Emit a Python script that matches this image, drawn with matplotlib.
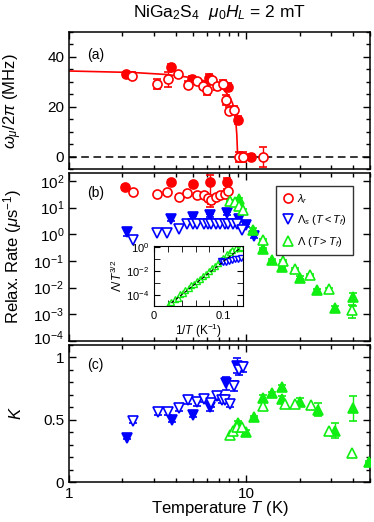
import numpy as np
import matplotlib.pyplot as plt
import matplotlib.transforms as mtransforms
from matplotlib.ticker import MultipleLocator, LogLocator, NullFormatter, FixedLocator

plt.rcParams['font.family'] = ['Liberation Sans', 'DejaVu Sans']
plt.rcParams['mathtext.fontset'] = 'custom'
plt.rcParams['mathtext.rm'] = 'Liberation Sans'
plt.rcParams['mathtext.it'] = 'Liberation Sans:italic'
plt.rcParams['mathtext.bf'] = 'Liberation Sans:bold'

VERMELHO = '#ff0000'
AZUL = '#0000ff'
VERDE = '#11ee11'

# (a) frequencia de precessao
a_cheio_T = [2.1, 3.75, 4.97, 6.17, 7.85, 8.93, 10.7]
a_cheio_w = [33.0, 36.0, 31.0, 31.7, 27.9, 14.8, 0.0]
a_cheio_err = [1.0, 1.0, 1.5, 1.5, 1.5, 1.5, 1.2]
a_vazio_T = [2.28, 3.14, 3.61, 4.13, 4.72, 5.29, 5.74, 6.04, 6.39, 6.8, 7.35, 7.7, 7.95, 8.5, 9.16, 9.65, 12.5]
a_vazio_w = [32.5, 29.0, 31.0, 33.3, 28.9, 30.2, 28.5, 26.9, 30.6, 28.2, 29.3, 22.6, 18.5, 18.8, 0.0, 0.0, 0.0]
a_vazio_err = [1.5, 2.0, 3.0, 1.0, 1.5, 1.0, 1.5, 2.0, 1.0, 1.5, 1.5, 2.0, 1.5, 1.5, 2.0, 2.0, 4.0]
ajuste_T = [1.0, 2.3, 3.55, 5.0, 6.5, 7.4, 8.1, 8.4, 8.7, 8.85, 8.95]
ajuste_w = [34.4, 33.8, 33.0, 31.7, 29.5, 27.2, 23.9, 21.2, 15.8, 9.0, 0.0]

# (b) taxas de relaxacao
lr_cheio_T = [2.07, 3.75, 5.04, 6.25, 7.8]
lr_cheio = [59, 91, 76, 91, 91]
lr_cheio_err = [12, 15, 15, 80, 40]
lr_vazio_T = [2.29, 3.15, 3.59, 4.2, 4.66, 5.3, 5.79, 6.12, 6.3, 6.77, 7.13, 7.6, 7.94]
lr_vazio = [39, 32, 39, 25, 37, 31, 29, 23, 20, 26, 29, 33, 42]
lr_vazio_err = [5, 5, 5, 4, 5, 4, 4, 4, 6, 4, 4, 5, 8]

ls_cheio_T = [2.12, 3.75, 5.04, 6.25, 7.8, 9.15, 10.0, 11.0]
ls_cheio = [1.2, 3.8, 4.4, 5.1, 6.2, 3.8, 2.2, 0.9]
ls_cheio_err = [0.3, 0.6, 0.6, 0.7, 0.8, 0.6, 0.3, 0.15]
ls_vazio_T = [2.29, 3.13, 3.59, 4.15, 4.66, 5.0, 5.3, 5.79, 6.12, 6.3, 6.77, 7.13, 7.6, 7.94, 8.45, 8.85, 9.46]
ls_vazio = [0.62, 1.1, 1.1, 1.6, 2.45, 2.4, 2.5, 2.4, 2.45, 2.5, 2.45, 2.5, 2.5, 2.45, 2.5, 2.4, 1.4]

lg_vazio_T = [8.1, 8.6, 9.05, 9.65, 12.4, 16.2, 18.9, 23.0, 29.4, 39.4]
lg_vazio = [17.8, 15.8, 12.0, 7.9, 0.62, 0.102, 0.050, 0.030, 0.0087, 0.0015]
lg_vazio_err = [2, 2, 1.5, 1, 0.06, 0.01, 0.005, 0.003, 0.001, 0.0008]
lg_cheio_T = [9.05, 10.9, 12.5, 13.95, 15.9, 20.0, 25.0, 31.8, 40.0]
lg_cheio = [21.0, 1.5, 0.28, 0.11, 0.062, 0.024, 0.0081, 0.0018, 0.0043]
lg_cheio_err = [3, 0.2, 0.03, 0.012, 0.007, 0.003, 0.0012, 0.0003, 0.0022]

# (c) expoente K
kc_azul_cheio_T = [2.12, 3.8, 5.0, 6.25, 7.7, 8.84]
kc_azul_cheio = [0.355, 0.50, 0.54, 0.60, 0.79, 0.93]
kc_azul_cheio_err = [0.01, 0.02, 0.02, 0.03, 0.05, 0.06]
kc_azul_vazio_T = [2.29, 3.19, 3.64, 4.15, 4.72, 5.26, 5.79, 6.34, 6.8, 7.28, 7.6, 8.1, 8.5, 9.1, 9.6]
kc_azul_vazio = [0.49, 0.56, 0.56, 0.595, 0.654, 0.64, 0.667, 0.63, 0.686, 0.66, 0.66, 0.627, 0.766, 0.90, 0.92]
kc_azul_vazio_err = [0.02, 0.02, 0.02, 0.03, 0.03, 0.03, 0.03, 0.03, 0.03, 0.03, 0.03, 0.03, 0.04, 0.04, 0.04]
kc_verde_vazio_T = [8.05, 8.4, 8.9, 9.5, 12.5, 16.6, 18.9, 23.3, 29.3, 39.3]
kc_verde_vazio = [0.38, 0.41, 0.44, 0.44, 0.61, 0.627, 0.627, 0.62, 0.41, 0.23]
kc_verde_cheio_T = [8.93, 10.0, 11.0, 12.5, 14.0, 16.0, 16.0, 20.0, 25.3, 31.8, 40.0, 49.0]
kc_verde_cheio = [0.47, 0.40, 0.52, 0.675, 0.71, 0.76, 0.667, 0.64, 0.58, 0.41, 0.59, 0.16]
kc_verde_cheio_err = [0.02, 0.02, 0.01, 0.02, 0.01, 0.02, 0.02, 0.03, 0.05, 0.06, 0.1, 0.01]

# inset: Lambda/T^1.5 contra 1/T
ins_verde_x = [0.022, 0.025, 0.03, 0.034, 0.038, 0.042, 0.045, 0.05, 0.054, 0.058, 0.0625, 0.066, 0.071,
               0.075, 0.08, 0.084, 0.088, 0.092, 0.097, 0.1, 0.105, 0.11, 0.113, 0.118, 0.122, 0.125]
ins_verde_log = [-4.75, -4.6, -4.35, -4.2, -3.9, -3.8, -3.55, -3.45, -3.2, -3.1, -2.85, -2.7, -2.4,
                 -2.25, -2.0, -1.75, -1.6, -1.35, -1.1, -0.9, -0.65, -0.45, -0.3, -0.15, -0.1, -0.05]
ins_azul_x = [0.097, 0.1, 0.104, 0.108, 0.112, 0.117, 0.121, 0.125]
ins_azul_log = [-1.15, -1.3, -1.25, -1.2, -1.1, -1.05, -1.0, -0.95]
ins_ajuste_x = [0.025, 0.125]
ins_ajuste_log = [-4.65, -0.1]


def serie(ax, T, y, err, cor, marker, cheio, ms=6.5):
    face = cor if cheio else 'white'
    ax.errorbar(T, y, yerr=err, fmt=marker, color=cor, mfc=face, mec=cor, ms=ms, mew=1.2,
                capsize=3, elinewidth=1, capthick=1, zorder=3)


def eixo_T(ax):
    ax.set_xscale('log')
    ax.set_xlim(1, 50)
    ax.tick_params(which='both', direction='in', top=True, right=True, labelsize=11)
    ax.tick_params(which='major', length=5, width=1)
    ax.tick_params(which='minor', length=3, width=1)
    for s in ax.spines.values():
        s.set_linewidth(1.1)


fig = plt.figure(figsize=(3.74, 5.22), dpi=100)
ax_a = fig.add_axes([0.1845, 0.6753, 0.805, 0.2634])
ax_b = fig.add_axes([0.1845, 0.3467, 0.805, 0.3219])
ax_c = fig.add_axes([0.1845, 0.0766, 0.805, 0.2634])

# painel (a)
eixo_T(ax_a)
ax_a.axhline(0, color='black', ls='--', lw=1.1, dashes=(5, 3), zorder=1)
ax_a.plot(ajuste_T, ajuste_w, color=VERMELHO, lw=1.2, zorder=2)
serie(ax_a, a_cheio_T, a_cheio_w, a_cheio_err, VERMELHO, 'o', True)
serie(ax_a, a_vazio_T, a_vazio_w, a_vazio_err, VERMELHO, 'o', False)
ax_a.set_ylim(-5, 50)
ax_a.yaxis.set_major_locator(FixedLocator([0, 20, 40]))
ax_a.yaxis.set_minor_locator(MultipleLocator(5))
ax_a.xaxis.set_major_formatter(NullFormatter())
ax_a.set_ylabel(r'$\omega_\mu/2\pi$ (MHz)', fontsize=12)
ax_a.text(0.06, 0.83, '(a)', transform=ax_a.transAxes, fontsize=10, va='center')

# painel (b)
eixo_T(ax_b)
ax_b.set_yscale('log')
serie(ax_b, lr_cheio_T, lr_cheio, lr_cheio_err, VERMELHO, 'o', True)
serie(ax_b, lr_vazio_T, lr_vazio, lr_vazio_err, VERMELHO, 'o', False)
serie(ax_b, ls_cheio_T, ls_cheio, ls_cheio_err, AZUL, 'v', True)
serie(ax_b, ls_vazio_T, ls_vazio, None, AZUL, 'v', False)
serie(ax_b, lg_cheio_T, lg_cheio, lg_cheio_err, VERDE, '^', True)
serie(ax_b, lg_vazio_T, lg_vazio, lg_vazio_err, VERDE, '^', False)
ax_b.set_ylim(1e-4, 200)
ax_b.yaxis.set_major_locator(FixedLocator([1e-4, 1e-3, 1e-2, 1e-1, 1, 10, 100]))
ax_b.yaxis.set_minor_locator(FixedLocator([]))
ax_b.xaxis.set_major_formatter(NullFormatter())
ax_b.set_ylabel(r'Relax. Rate ($\mu$s$^{-1}$)', fontsize=12)
ax_b.text(0.06, 0.88, '(b)', transform=ax_b.transAxes, fontsize=10, va='center')

h1 = ax_b.plot([], [], 'o', color=VERMELHO, mfc='white', ms=6.5, mew=1.2)[0]
h2 = ax_b.plot([], [], 'v', color=AZUL, mfc='white', ms=6.5, mew=1.2)[0]
h3 = ax_b.plot([], [], '^', color=VERDE, mfc='white', ms=6.5, mew=1.2)[0]
leg = ax_b.legend([h1, h2, h3], [r'$\lambda_r$', r'$\Lambda_s$ ($T<T_f$)', r'$\Lambda$ ($T>T_f$)'],
                  loc='upper left', bbox_to_anchor=(0.688, 0.925), fontsize=8, frameon=True,
                  fancybox=False, handletextpad=0.2, handlelength=1.1, borderpad=0.55,
                  labelspacing=0.7, borderaxespad=0)
leg.get_frame().set_edgecolor('black')
leg.get_frame().set_linewidth(1.0)

# inset
ax_i = fig.add_axes([154 / 374, 1 - 306 / 522, (242.7 - 154) / 374, 60 / 522])
ax_i.set_yscale('log')
ax_i.plot(ins_ajuste_x, 10.0 ** np.array(ins_ajuste_log), color='black', ls='--', lw=0.8, dashes=(3, 2), zorder=4)
ax_i.plot(ins_verde_x, 10.0 ** np.array(ins_verde_log), '^', color=VERDE, mfc='white', ms=4, mew=1)
ax_i.plot(ins_azul_x, 10.0 ** np.array(ins_azul_log), 'v', color=AZUL, mfc='white', ms=4, mew=1)
ax_i.set_xlim(0, 0.128)
ax_i.set_ylim(10 ** -4.9, 10 ** 0.05)
ax_i.xaxis.set_major_locator(FixedLocator([0, 0.1]))
ax_i.xaxis.set_minor_locator(MultipleLocator(0.02))
ax_i.set_xticklabels(['0', '0.1'])
ax_i.yaxis.set_major_locator(FixedLocator([1e-4, 1e-2, 1]))
ax_i.yaxis.set_minor_locator(FixedLocator([1e-3, 1e-1]))
ax_i.yaxis.set_minor_formatter(NullFormatter())
ax_i.tick_params(which='both', direction='in', top=True, right=True, labelsize=8)
ax_i.tick_params(which='major', length=4)
ax_i.tick_params(which='minor', length=4)
ax_i.set_xlabel(r'1/$T$ (K$^{-1}$)', fontsize=8.5, labelpad=1)
ax_i.set_ylabel(r'$\Lambda/T^{3/2}$', fontsize=8.5, labelpad=1)

# painel (c)
eixo_T(ax_c)
serie(ax_c, kc_azul_cheio_T, kc_azul_cheio, kc_azul_cheio_err, AZUL, 'v', True)
serie(ax_c, kc_azul_vazio_T, kc_azul_vazio, kc_azul_vazio_err, AZUL, 'v', False)
serie(ax_c, kc_verde_cheio_T, kc_verde_cheio, kc_verde_cheio_err, VERDE, '^', True)
serie(ax_c, kc_verde_vazio_T, kc_verde_vazio, None, VERDE, '^', False)
ax_c.set_ylim(0, 1.1)
ax_c.yaxis.set_major_locator(FixedLocator([0, 0.5, 1]))
ax_c.set_yticklabels(['0', '0.5', '1'])
ax_c.yaxis.set_minor_locator(MultipleLocator(0.1))
ax_c.set_xticks([1, 10])
ax_c.set_xticklabels(['1', '10'])
ax_c.set_ylabel(r'$K$', fontsize=12)
ax_c.set_xlabel(r'Temperature $T$ (K)', fontsize=12, labelpad=-1)
ax_c.text(0.06, 0.85, '(c)', transform=ax_c.transAxes, fontsize=10, va='center')

for ax in (ax_a, ax_b, ax_c):
    ax.yaxis.set_label_coords(-0.15, 0.5)

fig.text(0.587, 0.976, r'NiGa$_2$S$_4$  $\mu_0H_L$ = 2 mT', ha='center', va='center', fontsize=12.5)

# sobe um pouco o rotulo 10^-4 para nao encostar no "1" do painel (c)
fig.canvas.draw()
desloca = mtransforms.ScaledTranslation(0, 3 / 72, fig.dpi_scale_trans)
ax_b.yaxis.get_major_ticks()[0].label1.set_transform(ax_b.yaxis.get_major_ticks()[0].label1.get_transform() + desloca)

fig.savefig('out.png', dpi=100)
